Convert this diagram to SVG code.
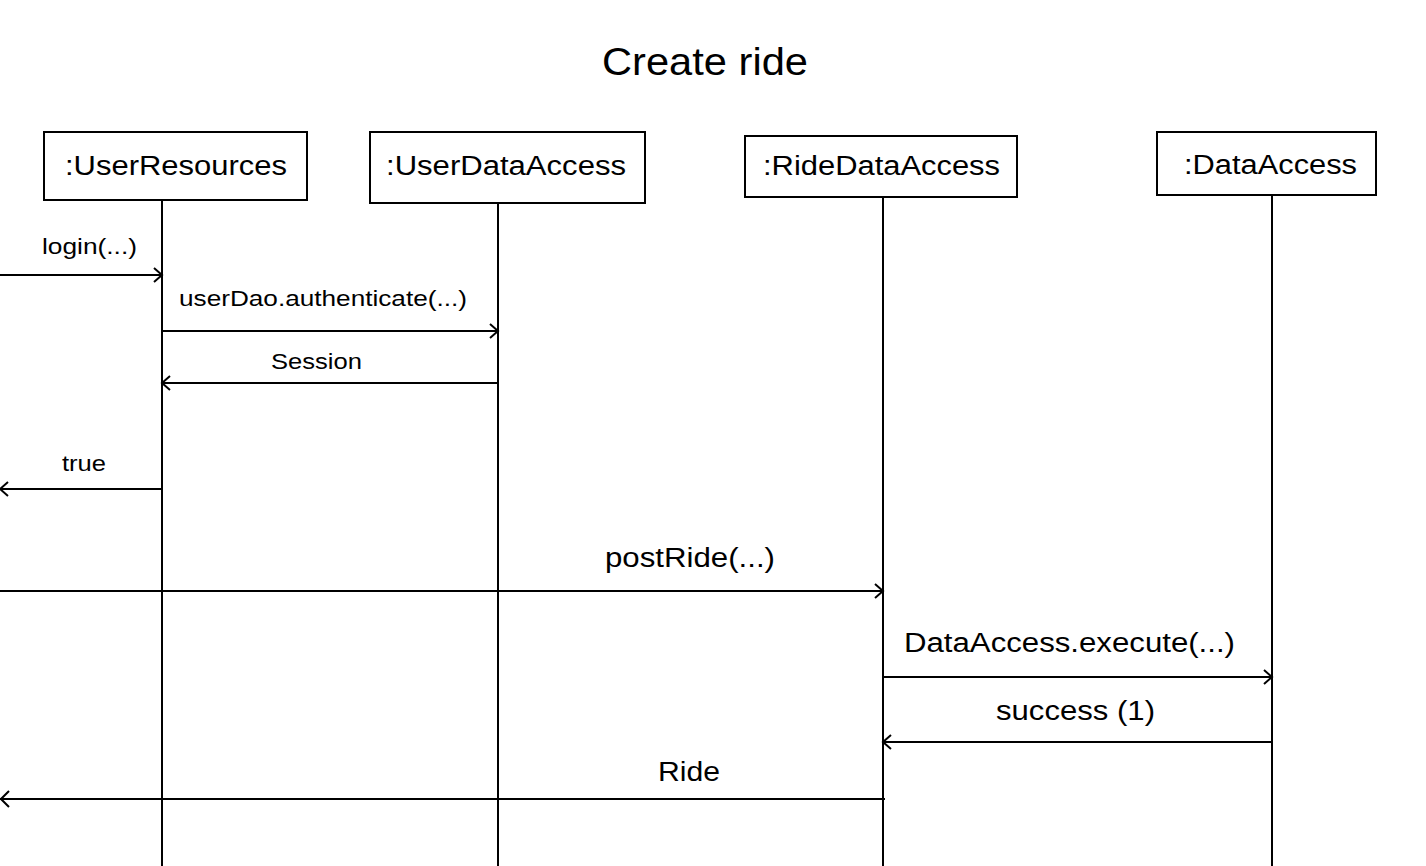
<svg xmlns="http://www.w3.org/2000/svg" width="1426" height="866" viewBox="0 0 1426 866">
<style>
text{font-family:"Liberation Sans",Arial,sans-serif;fill:#000;text-anchor:middle}
.box{fill:#fff;stroke:#000;stroke-width:2}
.life{stroke:#000;stroke-width:2}
.msg{stroke:#000;stroke-width:2;fill:none}
.ah{stroke:#000;stroke-width:2;fill:none}
.lbl{font-size:27px}
.sm{font-size:22px}
</style>
<rect width="1426" height="866" fill="#fff"/>
<text x="705" y="75" font-size="39" textLength="206" lengthAdjust="spacingAndGlyphs">Create ride</text>
<g id="lifelines">
<line class="life" x1="162" y1="200" x2="162" y2="866"/>
<line class="life" x1="498" y1="203" x2="498" y2="866"/>
<line class="life" x1="883" y1="197" x2="883" y2="866"/>
<line class="life" x1="1272" y1="195" x2="1272" y2="866"/>
</g>
<g id="n_userresources"><rect class="box" x="44" y="132" width="263" height="68"/><text class="lbl" x="176" y="175" textLength="222" lengthAdjust="spacingAndGlyphs">:UserResources</text></g>
<g id="n_userdataaccess"><rect class="box" x="370" y="132" width="275" height="71"/><text class="lbl" x="506" y="175" textLength="240" lengthAdjust="spacingAndGlyphs">:UserDataAccess</text></g>
<g id="n_ridedataaccess"><rect class="box" x="745" y="136" width="272" height="61"/><text class="lbl" x="881.5" y="175" textLength="237" lengthAdjust="spacingAndGlyphs">:RideDataAccess</text></g>
<g id="n_dataaccess"><rect class="box" x="1157" y="132" width="219" height="63"/><text class="lbl" x="1270.5" y="174" textLength="173" lengthAdjust="spacingAndGlyphs">:DataAccess</text></g>
<g id="connectors">
<line class="msg" x1="0" y1="275" x2="162" y2="275"/><polyline class="ah" points="154,268 162,275 154,282"/>
<text class="sm" x="89.5" y="254" textLength="95" lengthAdjust="spacingAndGlyphs">login(...)</text>
<line class="msg" x1="162" y1="331" x2="498" y2="331"/><polyline class="ah" points="490,324 498,331 490,338"/>
<text class="sm" x="323" y="306" textLength="288" lengthAdjust="spacingAndGlyphs">userDao.authenticate(...)</text>
<line class="msg" x1="498" y1="383" x2="162" y2="383"/><polyline class="ah" points="170,376 162,383 170,390"/>
<text class="sm" x="316.5" y="369" textLength="91" lengthAdjust="spacingAndGlyphs">Session</text>
<line class="msg" x1="162" y1="489" x2="0" y2="489"/><polyline class="ah" points="8,482 0,489 8,496"/>
<text class="sm" x="84" y="471" textLength="44" lengthAdjust="spacingAndGlyphs">true</text>
<line class="msg" x1="0" y1="591" x2="883" y2="591"/><polyline class="ah" points="875,584 883,591 875,598"/>
<text class="lbl" x="690" y="567" textLength="170" lengthAdjust="spacingAndGlyphs">postRide(...)</text>
<line class="msg" x1="883" y1="677" x2="1272" y2="677"/><polyline class="ah" points="1264,670 1272,677 1264,684"/>
<text class="lbl" x="1069.5" y="652" textLength="331" lengthAdjust="spacingAndGlyphs">DataAccess.execute(...)</text>
<line class="msg" x1="1272" y1="742" x2="883" y2="742"/><polyline class="ah" points="891,735 883,742 891,749"/>
<text class="lbl" x="1075.5" y="720" textLength="159" lengthAdjust="spacingAndGlyphs">success (1)</text>
<line class="msg" x1="885" y1="799" x2="0" y2="799"/><polyline class="ah" points="9,791 1,799 9,807"/>
<text class="lbl" x="689" y="781" textLength="62" lengthAdjust="spacingAndGlyphs">Ride</text>
</g>
</svg>
